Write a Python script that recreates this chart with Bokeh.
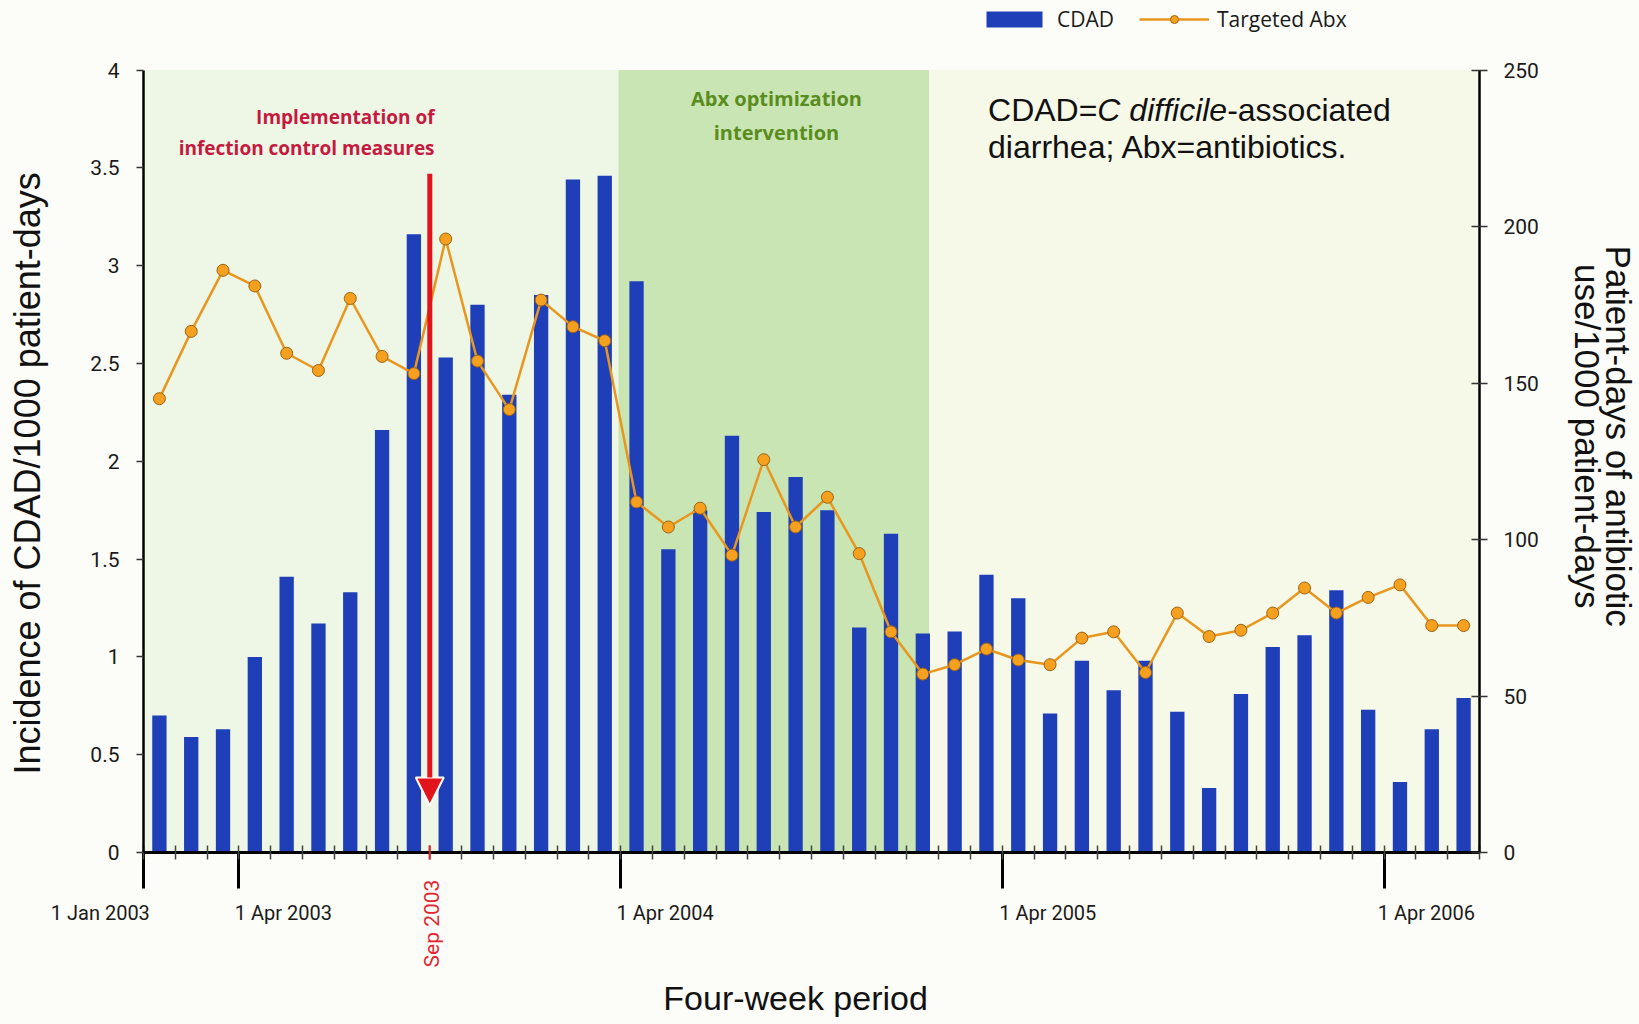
import math
from bokeh.plotting import figure
from bokeh.models import (Range1d, LinearAxis, FixedTicker, BoxAnnotation, Label,
                          Arrow, NormalHead, Legend, LegendItem, ColumnDataSource)
from bokeh.embed import file_html
from bokeh.resources import INLINE

# ---------------- data ----------------
periods = list(range(1, 43))  # four-week periods from 1 Jan 2003
cdad = [0.70, 0.59, 0.63, 1.00, 1.41, 1.17, 1.33, 2.16, 3.16, 2.53,
        2.80, 2.34, 2.85, 3.44, 3.46, 2.92, 1.55, 1.75, 2.13, 1.74,
        1.92, 1.75, 1.15, 1.63, 1.12, 1.13, 1.42, 1.30, 0.71, 0.98,
        0.83, 0.98, 0.72, 0.33, 0.81, 1.05, 1.11, 1.34, 0.73, 0.36,
        0.63, 0.79]
targeted_abx = [145, 166.5, 186, 181, 159.5, 154, 177, 158.5, 153, 196,
                157, 141.5, 176.5, 168, 163.5, 112, 104, 110, 95, 125.5,
                104, 113.5, 95.5, 70.5, 57, 60, 65, 61.5, 60, 68.5,
                70.5, 57.5, 76.5, 69, 71, 76.5, 84.5, 76.5, 81.5, 85.5,
                72.5, 72.5]
left_ticks = [0, 0.5, 1, 1.5, 2, 2.5, 3, 3.5, 4]
left_tick_labels = ["0", "0.5", "1", "1.5", "2", "2.5", "3", "3.5", "4"]
right_ticks = [0, 50, 100, 150, 200, 250]
date_boundaries = [0, 3, 15, 27, 39]
date_labels = ["1 Jan 2003", "1 Apr 2003", "1 Apr 2004", "1 Apr 2005", "1 Apr 2006"]
sep_boundary = 9
sep_label = "Sep 2003"
intervention_start, intervention_end = 14.93, 24.7
n_periods = len(periods)

# ---------------- geometry (plot area inside a full-canvas frame) ----------------
W, H = 1639, 1024
AX_L, AX_R, AX_T, AX_B = 143, 1479, 69.5, 852        # plot area in canvas px
ux = (AX_R - AX_L) / n_periods                        # px per period
uy = (AX_B - AX_T) / 4.0                              # px per left-axis unit
x_start, x_end = -AX_L / ux, n_periods + (W - AX_R) / ux
y_start, y_end = -(H - AX_B) / uy, 4 + AX_T / uy
abx_scale = 250 / 4.0

p = figure(width=W, height=H, x_range=Range1d(x_start, x_end),
           y_range=Range1d(y_start, y_end),
           x_axis_location=None, y_axis_location=None,
           output_backend="svg", toolbar_location=None, min_border=0,
           background_fill_color="#fcfcf8", border_fill_color="#fcfcf8",
           outline_line_color=None)
p.xgrid.visible = False
p.ygrid.visible = False
p.extra_y_ranges = {"abx": Range1d(y_start * abx_scale, y_end * abx_scale)}

# plot-area background regions
p.add_layout(BoxAnnotation(left=0, right=intervention_start, bottom=0, top=4,
                           fill_color="#eef6e6", fill_alpha=1, line_color=None, level="underlay"))
p.add_layout(BoxAnnotation(left=intervention_start, right=intervention_end, bottom=0, top=4,
                           fill_color="#c8e5b3", fill_alpha=1, line_color=None, level="underlay"))
p.add_layout(BoxAnnotation(left=intervention_end, right=n_periods, bottom=0, top=4,
                           fill_color="#f6f8e8", fill_alpha=1, line_color=None, level="underlay"))

# left axis
ly = LinearAxis(fixed_location=0, bounds=(0, 4), ticker=FixedTicker(ticks=left_ticks))
ly.major_label_overrides = {float(t): s for t, s in zip(left_ticks, left_tick_labels)}
ly.axis_line_width = 2.5
ly.axis_line_color = "black"
ly.major_tick_out = 7
ly.major_tick_in = 0
ly.major_tick_line_width = 1.5
ly.major_tick_line_color = "#333333"
ly.minor_tick_line_color = None
ly.major_label_text_font = "Roboto"
ly.major_label_text_font_size = "21px"
ly.major_label_text_color = "#1a1a1a"
ly.major_label_standoff = 17
p.add_layout(ly, "left")

# right axis
ry = LinearAxis(y_range_name="abx", fixed_location=n_periods, bounds=(0, 250),
                ticker=FixedTicker(ticks=right_ticks))
ry.axis_line_width = 2.5
ry.axis_line_color = "black"
ry.major_tick_out = 8
ry.major_tick_in = 8
ry.major_tick_line_width = 1.5
ry.major_tick_line_color = "#333333"
ry.minor_tick_line_color = None
ry.major_label_text_font = "Roboto"
ry.major_label_text_font_size = "21px"
ry.major_label_text_color = "#1a1a1a"
ry.major_label_standoff = 16
p.add_layout(ry, "right")

# bottom axis
bx = LinearAxis(fixed_location=0, bounds=(0, n_periods),
                ticker=FixedTicker(ticks=date_boundaries, minor_ticks=list(range(0, n_periods + 1))))
bx.axis_line_width = 3
bx.axis_line_color = "black"
bx.major_tick_out = 36
bx.major_tick_in = 0
bx.major_tick_line_width = 3
bx.major_tick_line_color = "black"
bx.minor_tick_in = 7
bx.minor_tick_out = 7
bx.minor_tick_line_width = 1.5
bx.minor_tick_line_color = "#444444"
bx.major_label_overrides = {float(b): "" for b in date_boundaries}
bx.major_label_text_font_size = "0px"
bx.major_label_standoff = 0
p.add_layout(bx, "below")

# ---------------- glyphs ----------------
src = ColumnDataSource(dict(x=[k - 0.5 for k in periods], cdad=cdad, abx=targeted_abx))
bars = p.vbar(x="x", top="cdad", width=0.45, source=src,
              fill_color="#1e3fb8", line_color=None)
abx_line = p.line(x="x", y="abx", source=src, y_range_name="abx",
                  line_color="#e8961e", line_width=2.5)
abx_pts = p.scatter(x="x", y="abx", source=src, y_range_name="abx", size=12,
                    fill_color="#f6a020", line_color="#9a6414", line_width=1)

# red implementation arrow and red tick
red = "#e3131b"
p.add_layout(Arrow(end=NormalHead(size=28, fill_color=red, line_color="white", line_width=2),
                   x_start=sep_boundary, y_start=3.47, x_end=sep_boundary, y_end=0.24,
                   line_color=red, line_width=5))
p.segment(x0=[sep_boundary], y0=[-0.036], x1=[sep_boundary], y1=[0.036],
          line_color="#e0252f", line_width=2, level="overlay")

# ---------------- texts ----------------
def lab(text, x, y, **kw):
    kw.setdefault("text_baseline", "middle")
    p.add_layout(Label(x=x, y=y, text=text, **kw))

date_pos = [(0.2, "right"), (2.87, "left"), (14.87, "left"), (26.9, "left"), (38.8, "left")]
for t, (xx, al) in zip(date_labels, date_pos):
    lab(t, xx, -0.307, text_align=al, text_font="Roboto",
        text_font_size="20px", text_color="#1a1a1a")

lab(sep_label, sep_boundary + 0.08, -0.363, angle=math.pi / 2, text_align="center",
    text_font="Roboto", text_font_size="21px", text_color="#e0252f")

# axis titles
lab("Incidence of CDAD/1000 patient-days", -3.634, 1.938, angle=math.pi / 2,
    text_align="center", text_font="Liberation Sans",
    text_font_size="36px", text_color="#111111")
lab("Four-week period", 20.5, -0.746, text_align="center",
    text_font="Liberation Sans", text_font_size="34px", text_color="#111111")
rt = dict(angle=-math.pi / 2, text_align="center",
          text_font="Liberation Sans", text_font_size="35px", text_color="#111111")
lab("Patient-days of antibiotic", 46.38, 2.128, **rt)
lab("use/1000 patient-days", 45.39, 2.128, **rt)

crimson = "#c51a3f"
lab("Implementation of", 9.15, 3.758, text_align="right", text_font="Open Sans",
    text_font_style="bold", text_font_size="19px", text_color=crimson)
lab("infection control measures", 9.15, 3.599, text_align="right", text_font="Open Sans",
    text_font_style="bold", text_font_size="19px", text_color=crimson)

green = "#5a8c1e"
lab("Abx optimization", 19.9, 3.853, text_align="center", text_font="Open Sans",
    text_font_style="bold", text_font_size="20px", text_color=green)
lab("intervention", 19.9, 3.683, text_align="center", text_font="Open Sans",
    text_font_style="bold", text_font_size="20px", text_color=green)

note = dict(text_font="Liberation Sans", text_font_size="32px", text_color="#111111")
lab("CDAD=", 26.55, 3.796, **note)
lab("C difficile", 26.55, 3.796, x_offset=109.3, text_font_style="italic", **note)
lab("-associated", 26.55, 3.796, x_offset=239.1, **note)
lab("diarrhea; Abx=antibiotics.", 26.55, 3.604, **note)

# ---------------- legend ----------------
legend = Legend(items=[LegendItem(label="CDAD", renderers=[bars]),
                       LegendItem(label="Targeted Abx", renderers=[abx_line, abx_pts])],
                orientation="horizontal", location=(979, H - 33),
                glyph_width=70, glyph_height=20, label_standoff=8, spacing=25,
                padding=0, margin=0, border_line_color=None, background_fill_alpha=0,
                label_text_font="Open Sans", label_text_font_size="21px",
                label_text_color="#1a1a1a")
p.add_layout(legend, "center")

open("out.html", "w").write(file_html(p, INLINE))
